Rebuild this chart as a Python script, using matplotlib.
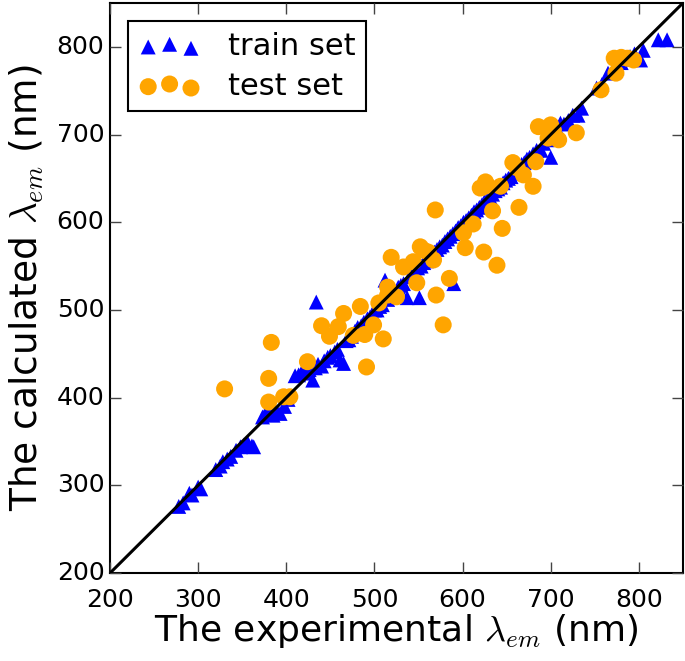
import matplotlib
matplotlib.use('Agg')
import matplotlib.pyplot as plt

plt.style.use('classic')

# training set: experimental vs calculated emission wavelength (nm)
train_exp = [278, 283, 290, 293, 300, 303,
             320, 325, 328, 333, 337, 343, 348, 352, 356, 361, 363,
             373, 376, 381, 385, 390, 393, 398, 402,
             410, 414, 418, 422, 426, 430, 433, 436, 440, 443, 447, 450, 455, 458, 461, 465,
             468, 471, 474, 478, 481, 485, 488, 492, 495, 498, 500, 434,
             503, 506, 509, 512, 515, 518, 521, 524, 527, 530, 533, 537, 540, 543, 546, 549,
             551, 553, 556, 559, 562, 565, 568, 571, 574, 577, 580, 583, 586, 589, 590, 592,
             595, 598, 601, 604, 607, 610, 613, 616, 619, 622, 625, 628, 631, 634, 637, 640,
             643, 646, 649, 652, 655, 658, 661, 664, 667, 670, 673, 676, 680, 684, 689, 692,
             696, 700, 704, 708, 711, 715, 720, 725, 731, 735,
             752, 758, 765, 770, 775, 780, 785, 790, 795, 802, 805, 822, 832]
train_calc = [276, 280, 291, 289, 298, 296,
              318, 322, 327, 330, 333, 340, 344, 346, 349, 345, 344,
              378, 381, 384, 380, 383, 382, 390, 398,
              425, 426, 430, 428, 432, 420, 434, 438, 436, 442, 446, 448, 452, 455, 443, 439,
              465, 466, 470, 476, 480, 482, 486, 490, 492, 496, 500, 509,
              500, 504, 506, 534, 512, 516, 520, 518, 526, 528, 530, 514, 538, 540, 545, 548,
              514, 550, 554, 556, 560, 563, 566, 569, 572, 574, 578, 581, 584, 587, 530, 590,
              594, 596, 600, 602, 605, 608, 612, 614, 617, 620, 624, 626, 629, 632, 636, 638,
              640, 645, 648, 650, 652, 656, 660, 662, 666, 668, 672, 674, 678, 682, 682, 690,
              694, 674, 700, 705, 713, 712, 716, 722, 722, 730,
              753, 757, 770, 772, 776, 782, 786, 789, 792, 785, 796, 808, 808]

# test set
test_exp = [330, 380, 380, 383, 397, 404, 424, 440, 449, 459, 465, 476, 484, 489, 491,
            499, 505, 510, 515, 515, 519, 525, 533, 544, 548, 552, 556, 561, 567, 569,
            570, 578, 585, 601, 603, 612, 620, 623, 626, 628, 634, 639, 643, 645, 624,
            657, 662, 664, 669, 680, 683, 686, 697, 700, 703, 709, 729, 757, 774, 772,
            780, 787, 794]
test_calc = [410, 422, 395, 463, 401, 401, 441, 482, 470, 481, 496, 471, 504, 472, 435,
             483, 508, 467, 517, 526, 560, 515, 549, 555, 531, 572, 568, 566, 557, 614,
             517, 483, 536, 588, 571, 598, 639, 640, 646, 642, 613, 551, 641, 593, 566,
             668, 662, 617, 654, 641, 669, 709, 696, 711, 705, 694, 702, 751, 770, 787,
             788, 787, 785]

fig = plt.figure(figsize=(6.85, 6.61), dpi=100, facecolor='white')
ax = fig.add_axes([0.1606, 0.133, 0.8364, 0.8625])
ax.set_facecolor('white')

ax.scatter(train_exp, train_calc, marker='^', s=115, c='blue', edgecolors='none',
           label='train set', zorder=2)
ax.scatter(test_exp, test_calc, marker='o', s=150, c='orange', edgecolors='none',
           label='test set', zorder=3)
ax.plot([200, 850], [200, 850], color='black', lw=2.2, zorder=4)

ax.set_xlim(200, 850)
ax.set_ylim(200, 850)
ax.set_xticks([200, 300, 400, 500, 600, 700, 800])
ax.set_yticks([200, 300, 400, 500, 600, 700, 800])
ax.tick_params(labelsize=18, length=8, width=1, color='#444444', direction='in')
ax.tick_params(axis='x', pad=11)
for sp in ax.spines.values():
    sp.set_linewidth(1.5)

ax.set_xlabel(r'The experimental $\lambda_{em}$ (nm)', fontsize=26, labelpad=0)
ax.set_ylabel(r'The calculated $\lambda_{em}$ (nm)', fontsize=27, labelpad=8)

leg = ax.legend(loc='upper left', fontsize=22, scatterpoints=3, frameon=True,
                fancybox=False, borderpad=0.35, handletextpad=0.9, labelspacing=0.35,
                borderaxespad=0.6)
leg.get_frame().set_edgecolor('black')
leg.get_frame().set_linewidth(1.5)

fig.savefig('out.png', dpi=100, facecolor='white')
